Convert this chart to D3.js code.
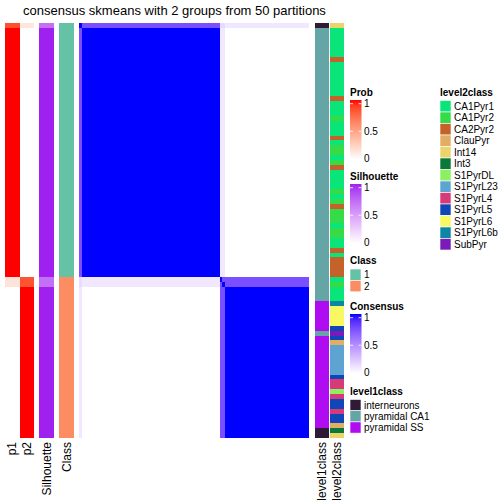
<!DOCTYPE html>
<html><head><meta charset="utf-8">
<script src="https://cdn.jsdelivr.net/npm/d3@7/dist/d3.min.js"></script>
<style>
body{margin:0;background:#fff}
svg{display:block}
text{font-family:"Liberation Sans",Arial,Helvetica,sans-serif;fill:#000}
</style>
</head><body>
<svg id="chart" width="504" height="504"></svg>
<script>
// ---------- data (run-length lists, top to bottom) ----------
const level2Runs = [["Int14",1],["CA1Pyr1",6],["CA2Pyr2",1],["CA1Pyr1",7],["CA2Pyr2",1],["CA1Pyr1",3],
  ["CA1Pyr2",1],["CA1Pyr1",3],["CA2Pyr2",1],["CA1Pyr1",1],["CA1Pyr2",2],["CA1Pyr1",1],["CA1Pyr2",1],
  ["CA2Pyr2",1],["CA1Pyr1",4],["CA1Pyr2",1],["CA1Pyr1",1],["CA1Pyr2",1],["CA2Pyr2",1],["CA1Pyr2",3],
  ["CA1Pyr1",1],["CA1Pyr2",2],["CA1Pyr1",2],["CA2Pyr2",1],["CA1Pyr1",1],["CA2Pyr2",4],
  ["CA1Pyr1",1],["CA1Pyr2",1],["CA1Pyr1",3],["S1PyrL6b",1],["S1PyrL6",4],["S1PyrL5",1],["SubPyr",1],
  ["S1PyrL5",1],["ClauPyr",1],["S1PyrL23",6],["S1PyrL5",1],["S1PyrL4",2],["S1PyrDL",1],["S1PyrL4",1],
  ["S1PyrL5",2],["S1PyrL4",1],["S1PyrL5",2],["ClauPyr",1],["Int3",1],["Int14",1]];
const level1Runs = [["interneurons",1],["pyramidal CA1",56],["pyramidal SS",6],["pyramidal CA1",1],
  ["pyramidal SS",19],["interneurons",2]];
const classRuns = [["1",52],["2",33]];
const p1Runs = [[0.85,1],[1,51],[0.15,2],[0,31]];
const p2Runs = [[0.13,1],[0,51],[0.83,2],[1,31]];
const silhouetteRuns = [[0.7,1],[1,51],[0.7,2],[1,31]];
// consensus: sample groups and block values read from the matrix
const consensusGroupRuns = [["A",1],["B",51],["C",2],["D",31]];
const consensusBlocks = {
  "A|A":1, "A|B":0.75, "A|C":0.15, "A|D":0.1,
  "B|B":1, "B|C":0.1, "B|D":0,
  "C|C":0.75, "C|D":0.75, "D|D":1
};
const level1Names = ["interneurons","pyramidal CA1","pyramidal SS"];
const level1Colors = ["#2F1B35","#66A5A5","#B00CF2"];
const level2Names = ["CA1Pyr1","CA1Pyr2","CA2Pyr2","ClauPyr","Int14","Int3","S1PyrDL","S1PyrL23",
  "S1PyrL4","S1PyrL5","S1PyrL6","S1PyrL6b","SubPyr"];
const level2Colors = ["#0AE57A","#36DB48","#C4622A","#E2AE64","#EBD46A","#0A7838","#8DF062","#5DA4D2",
  "#D83A78","#0F47B8","#F7F862","#0C86A6","#7B1AB8"];
const classNames = ["1","2"];
const classColors = ["#66C2A5","#FC8D62"];
const legendTicks = ["0","0.5","1"];
const titleText = "consensus skmeans with 2 groups from 50 partitions";

// ---------- helpers ----------
const expand = runs => runs.flatMap(([v,n]) => Array(n).fill(v));
const level2 = expand(level2Runs), level1 = expand(level1Runs), cls = expand(classRuns);
const p1 = expand(p1Runs), p2 = expand(p2Runs), sil = expand(silhouetteRuns);
const grp = expand(consensusGroupRuns);
const N = level2.length;
const consensus = (i,j) => {
  if (i===j) return 1;
  const k = [grp[i],grp[j]].sort().join("|");
  return consensusBlocks[k];
};

const svg = d3.select("#chart");
const probColor = d3.scaleLinear().domain([0,1]).range(["#ffffff","#ff0000"]).interpolate(d3.interpolateLab);
const silColor = d3.scaleLinear().domain([0,1]).range(["#ffffff","#A020F0"]).interpolate(d3.interpolateLab);
const consColor = d3.scaleLinear().domain([0,1]).range(["#ffffff","#0000ff"]).interpolate(d3.interpolateLab);
const clsColor = d3.scaleOrdinal(classNames, classColors);
const l1Color = d3.scaleOrdinal(level1Names, level1Colors);
const l2Color = d3.scaleOrdinal(level2Names, level2Colors);

const y = d3.scaleBand().domain(d3.range(N)).range([23.3, 438]);
const xh = d3.scaleBand().domain(d3.range(N)).range([79, 309]);

// title
svg.append("text").attr("x",174.5).attr("y",14.5).attr("text-anchor","middle")
  .style("font-size","13px").text(titleText);

const g = svg.append("g").attr("shape-rendering","crispEdges");

// annotation columns
const columns = [
  {name:"p1", x0:5, x1:19.5, vals:p1, color:probColor},
  {name:"p2", x0:19.5, x1:34, vals:p2, color:probColor},
  {name:"Silhouette", x0:39, x1:54, vals:sil, color:silColor},
  {name:"Class", x0:59, x1:74, vals:cls, color:clsColor},
  {name:"level1class", x0:315, x1:329, vals:level1, color:l1Color},
  {name:"level2class", x0:330, x1:344, vals:level2, color:l2Color}
];
columns.forEach(c => {
  g.append("g").selectAll("rect").data(c.vals).join("rect")
    .attr("x", c.x0).attr("width", c.x1 - c.x0)
    .attr("y", (d,i) => y(i)).attr("height", y.bandwidth())
    .attr("fill", d => c.color(d));
  svg.append("text")
    .attr("transform", `translate(${(c.x0+c.x1)/2},442) rotate(-90)`)
    .attr("text-anchor","end").attr("dominant-baseline","central")
    .style("font-size","12px").text(c.name);
});

// consensus heatmap
const cells = [];
for (let i=0;i<N;i++) for (let j=0;j<N;j++) cells.push({i,j,v:consensus(i,j)});
g.append("g").selectAll("rect").data(cells).join("rect")
  .attr("x", d => xh(d.j)).attr("width", xh.bandwidth())
  .attr("y", d => y(d.i)).attr("height", y.bandwidth())
  .attr("fill", d => consColor(d.v));

// ---------- legends ----------
const defs = svg.append("defs");
function colorbar(id, title, scale, top) {
  svg.append("text").attr("x",350).attr("y",top).style("font-size","10px")
    .style("font-weight","bold").text(title);
  const grad = defs.append("linearGradient").attr("id",id)
    .attr("x1",0).attr("y1",1).attr("x2",0).attr("y2",0);
  d3.range(0,1.0001,0.1).forEach(t => grad.append("stop").attr("offset",t).attr("stop-color",scale(t)));
  const yb = d3.scaleLinear().domain([0,1]).range([top+63.3, top+8.2]);
  svg.append("rect").attr("x",350).attr("width",11.5).attr("y",top+4.5).attr("height",59.5)
    .attr("fill",`url(#${id})`);
  legendTicks.forEach(t => {
    const v = +t, yy = yb(v);
    if (v>0) {
      svg.append("line").attr("x1",350).attr("x2",353).attr("y1",yy).attr("y2",yy).attr("stroke","#fff").attr("stroke-width",0.8);
      svg.append("line").attr("x1",358.5).attr("x2",361.5).attr("y1",yy).attr("y2",yy).attr("stroke","#fff").attr("stroke-width",0.8);
    }
    svg.append("text").attr("x",364).attr("y",yy).attr("dominant-baseline","central")
      .style("font-size","10px").text(t);
  });
}
function discrete(title, names, colors, x, top, step) {
  svg.append("text").attr("x",x).attr("y",top).style("font-size","10px")
    .style("font-weight","bold").text(title);
  names.forEach((n,k) => {
    const y0 = top + 5 + k*step;
    svg.append("rect").attr("x",x).attr("y",y0).attr("width",11).attr("height",step)
      .attr("fill",colors[k]).attr("stroke","#fff").attr("stroke-width",0.6);
    svg.append("text").attr("x",x+14).attr("y",y0+step/2).attr("dominant-baseline","central")
      .style("font-size","10px").text(n);
  });
}
colorbar("gProb","Prob",probColor,95.5);
colorbar("gSil","Silhouette",silColor,179.5);
discrete("Class",classNames,classColors,350,264,11.4);
colorbar("gCons","Consensus",consColor,309.5);
discrete("level1class",level1Names,level1Colors,350,394.5,11.2);
discrete("level2class",level2Names,level2Colors,440,95.5,11.5);
</script>
</body></html>
